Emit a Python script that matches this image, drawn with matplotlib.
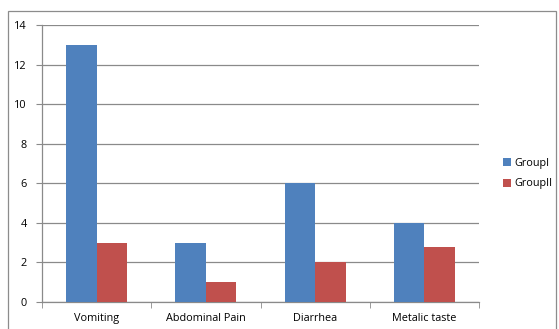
import numpy as np
import matplotlib.pyplot as plt
from matplotlib.patches import Rectangle

categories = ['Vomiting', 'Abdominal Pain', 'Diarrhea', 'Metalic taste']
group1 = [13, 3, 6, 4]
group2 = [3, 1, 2, 2.8]
series_names = ['GroupI', 'GroupII']

blue = '#4F81BD'
red = '#C0504D'
grid_col = '#8a8a8a'

plt.rcParams['font.family'] = ['Open Sans', 'DejaVu Sans']

fig = plt.figure(figsize=(5.59, 3.29), dpi=100)
fig.patches.append(Rectangle((8 / 559, -0.05), 548 / 559, 1 - 11 / 329 + 0.05,
                             transform=fig.transFigure, fill=False,
                             edgecolor='#8c8c8c', linewidth=0.9))

ax = fig.add_axes([42 / 559, 1 - 302 / 329, 437 / 559, 277 / 329])

x = np.arange(len(categories))
w = 0.28
ax.bar(x - w / 2, group1, w, color=blue, label=series_names[0], zorder=3)
ax.bar(x + w / 2, group2, w, color=red, label=series_names[1], zorder=3)

ax.set_xlim(-0.5, len(categories) - 0.5)
ax.set_ylim(0, 14)
ax.set_yticks(range(0, 15, 2))
ax.yaxis.grid(True, color=grid_col, linewidth=0.9, zorder=0)

ax.set_xticks(x)
ax.set_xticklabels(categories, fontsize=7.8)
ax.set_xticks(np.arange(-0.5, len(categories)), minor=True)
ax.tick_params(axis='x', which='major', length=0, pad=8)
ax.tick_params(axis='x', which='minor', length=4, direction='out', color=grid_col)
ax.tick_params(axis='y', length=4, direction='out', color=grid_col, labelsize=7.8, pad=7)

for s in ['top', 'right']:
    ax.spines[s].set_visible(False)
for s in ['left', 'bottom']:
    ax.spines[s].set_color(grid_col)
    ax.spines[s].set_linewidth(0.9)

fig.legend(loc='upper left', bbox_to_anchor=(493 / 559, 1 - 148 / 329), frameon=False,
           fontsize=7.8, handlelength=0.8, handleheight=0.8, handletextpad=0.3,
           labelspacing=0.9)

fig.savefig('out.png', dpi=100)
